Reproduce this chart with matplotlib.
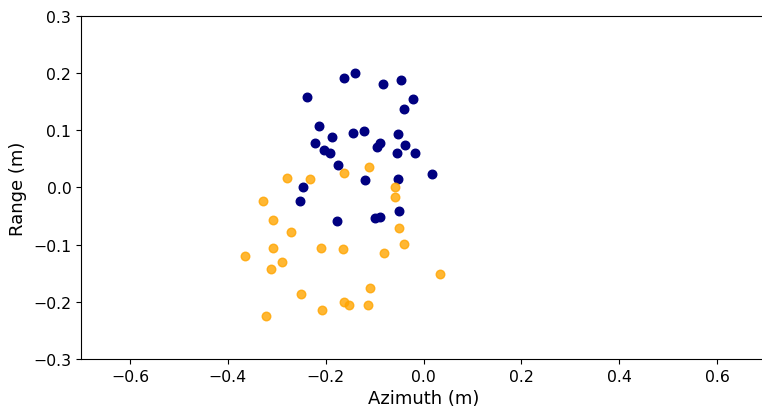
import matplotlib
matplotlib.use("Agg")
import matplotlib.pyplot as plt

blue_x = [-0.238, -0.162, -0.141, -0.082, -0.047, -0.022, -0.040, -0.213, -0.222, -0.187,
          -0.145, -0.122, -0.204, -0.191, -0.096, -0.089, -0.053, -0.038, -0.055, -0.018,
          -0.174, 0.018, -0.052, -0.119, -0.247, -0.252, -0.176, -0.100, -0.088, -0.051]
blue_y = [0.159, 0.191, 0.201, 0.181, 0.188, 0.154, 0.138, 0.108, 0.077, 0.088,
          0.095, 0.099, 0.066, 0.060, 0.071, 0.078, 0.093, 0.075, 0.060, 0.061,
          0.040, 0.024, 0.015, 0.013, 0.001, -0.024, -0.059, -0.053, -0.052, -0.041]

orange_x = [-0.279, -0.231, -0.163, -0.112, -0.059, -0.058, -0.328, -0.307, -0.271, -0.051,
            -0.040, -0.307, -0.209, -0.165, -0.081, -0.365, -0.290, -0.311, 0.034, -0.109,
            -0.250, -0.163, -0.153, -0.114, -0.208, -0.321]
orange_y = [0.016, 0.015, 0.025, 0.035, 0.001, -0.017, -0.024, -0.056, -0.077, -0.070,
            -0.099, -0.105, -0.106, -0.107, -0.115, -0.120, -0.130, -0.142, -0.152, -0.175,
            -0.186, -0.201, -0.205, -0.206, -0.215, -0.224]

fig = plt.figure(figsize=(7.62, 4.10), dpi=100)
ax = fig.add_axes([0.1063, 0.122, 0.899, 0.8365])
ax.scatter(blue_x, blue_y, color='navy', s=38, zorder=3)
ax.scatter(orange_x, orange_y, color='orange', alpha=0.8, s=38, zorder=3)
ax.set_xlim(-0.7, 0.7)
ax.set_ylim(-0.3, 0.3)
ax.set_xticks([-0.6, -0.4, -0.2, 0.0, 0.2, 0.4, 0.6])
ax.set_yticks([-0.3, -0.2, -0.1, 0.0, 0.1, 0.2, 0.3])
ax.tick_params(labelsize=11.3)
ax.set_xlabel('Azimuth (m)', fontsize=13)
ax.set_ylabel('Range (m)', fontsize=13)
fig.savefig('out.png', dpi=100)
